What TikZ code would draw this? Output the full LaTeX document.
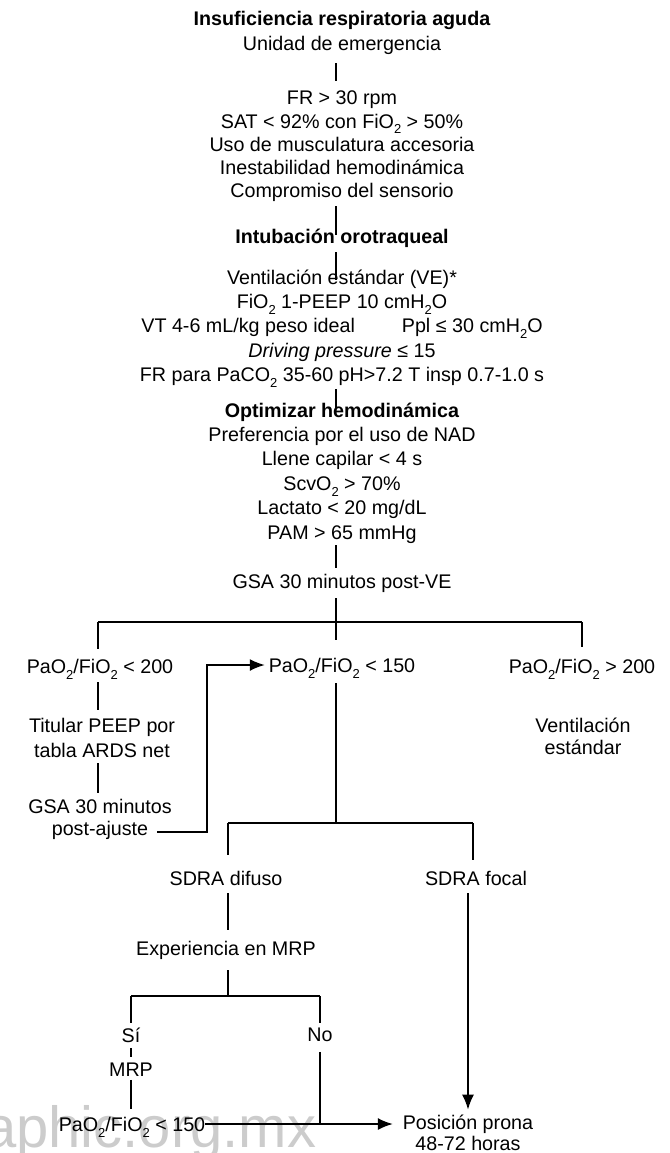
\documentclass[tikz,border=0pt]{standalone}
\usepackage{fontspec}
\setmainfont{Liberation Sans}
\usetikzlibrary{arrows.meta}
\newcommand{\dn}[1]{\raisebox{-0.3em}{\fontsize{13}{13}\selectfont #1}}
\begin{document}
\begin{tikzpicture}[x=1pt,y=-1pt,
  txt/.style={align=center,inner sep=0pt,outer sep=0pt,font=\fontsize{19.7}{23.5}\selectfont},
  ln/.style={line width=1.7pt},
  arr/.style={line width=1.7pt,-{Latex[length=15pt,width=12pt]}}]
\useasboundingbox (0,0) rectangle (669,1153);
% watermark
\node[anchor=base west,inner sep=0pt,text=black!20,font=\fontsize{58}{58}\selectfont] (wm) at (-16,1147) {aphic.org.mx};
% reference columns
\coordinate (sp) at (336,0);
\coordinate (lc) at (98,0);
\coordinate (tc) at (207,0);
\coordinate (pr) at (468,0);
% nodes
\node[txt] (t1) at (342,32.5) {\textbf{Insuficiencia respiratoria aguda}\\[1.5pt]Unidad de emergencia};
\node[txt,font=\fontsize{19.7}{23.3}\selectfont] (b2) at (342,146.5) {FR > 30 rpm\\SAT < 92\% con FiO\dn{2} > 50\%\\Uso de musculatura accesoria\\Inestabilidad hemodinámica\\Compromiso del sensorio};
\node[txt] (b3) at (342,238) {\textbf{Intubación orotraqueal}};
\node[txt,font=\fontsize{19.7}{24.2}\selectfont] (b4) at (342,328.5) {Ventilación estándar (VE)*\\FiO\dn{2} 1-PEEP 10 cmH\dn{2}O\\VT 4-6 mL/kg peso ideal\hspace{47pt}Ppl ≤ 30 cmH\dn{2}O\\\textit{Driving pressure} ≤ 15\\FR para PaCO\dn{2} 35-60 pH>7.2 T insp 0.7-1.0 s};
\node[txt,font=\fontsize{19.7}{24.4}\selectfont] (b5) at (342,473) {\textbf{Optimizar hemodinámica}\\Preferencia por el uso de NAD\\Llene capilar < 4 s\\ScvO\dn{2} > 70\%\\Lactato < 20 mg/dL\\PAM > 65 mmHg};
\node[txt] (b6) at (342,583) {GSA 30 minutos post-VE};
\node[txt] (lt) at (100,669) {PaO\dn{2}/FiO\dn{2} < 200};
\node[txt] (mid) at (342,668) {PaO\dn{2}/FiO\dn{2} < 150};
\node[txt] (rt) at (582,669) {PaO\dn{2}/FiO\dn{2} > 200};
\node[txt,font=\fontsize{19.7}{25}\selectfont] (tit) at (102,737.5) {Titular PEEP por\\tabla ARDS net};
\node[txt,font=\fontsize{19.7}{22}\selectfont] (vent) at (583,736) {Ventilación\\estándar};
\node[txt,font=\fontsize{19.7}{21.5}\selectfont] (gsa2) at (100,819.5) {GSA 30 minutos\\post-ajuste};
\node[txt] (dif) at (226,878) {SDRA difuso};
\node[txt] (foc) at (476,878) {SDRA focal};
\node[txt] (exp) at (226,950) {Experiencia en MRP};
\node[txt] (si) at (131,1035) {Sí};
\node[txt] (no) at (320,1035) {No};
\node[txt] (mrp) at (131,1070) {MRP};
\node[txt] (pa3) at (132,1127) {PaO\dn{2}/FiO\dn{2} < 150};
\node[txt,font=\fontsize{19.7}{21}\selectfont] (prona) at (468,1132.5) {Posición prona\\48-72 horas};
% junctions
\coordinate (jl) at (98,622);
\coordinate (jr) at (582,622);
\coordinate (jm) at (336,823);
\coordinate (jdl) at (228,823);
\coordinate (jdr) at (473,823);
\coordinate (je) at (228,996);
\coordinate (jsl) at (131,996);
\coordinate (jsr) at (320,996);
\coordinate (pa) at (157,832);
\coordinate (m3) at ([yshift=3pt]mid.west);
\coordinate (p3) at ([yshift=3pt]pa3.east);
\coordinate (jn) at (p3 -| jsr);
% spine
\draw[ln,shorten <=9pt,shorten >=10pt] (t1.south -| sp) -- (b2.north -| sp);
\draw[ln,shorten <=4pt,shorten >=-6pt] (b2.south -| sp) -- (b3.north -| sp);
\draw[ln,shorten <=5pt,shorten >=-10pt] (b3.south -| sp) -- (b4.north -| sp);
\draw[ln,shorten <=2pt,shorten >=-6pt] (b4.south -| sp) -- (b5.north -| sp);
\draw[ln,shorten <=2pt,shorten >=6pt] (b5.south -| sp) -- (b6.north -| sp);
\draw[ln,shorten <=6pt,shorten >=18pt] (b6.south -| sp) -- (mid.north -| sp);
\draw[ln] (jl) -- (jr);
\draw[ln,shorten >=10pt] (jl) -- (lt.north -| jl);
\draw[ln,shorten >=12pt] (jr) -- (rt.north -| jr);
% left column
\draw[ln,shorten <=3pt,shorten >=8pt] (lt.south -| lc) -- (tit.north -| lc);
\draw[ln,shorten <=6pt,shorten >=7pt] (tit.south -| lc) -- (gsa2.north -| lc);
\draw[arr,shorten >=4pt] (pa) -| (m3 -| tc) -- (m3);
% middle
\draw[ln,shorten <=5pt] (mid.south -| sp) -- (jm);
\draw[ln] (jdl) -- (jdr);
\draw[ln,shorten >=16pt] (jdl) -- (dif.north -| jdl);
\draw[ln,shorten >=11pt] (jdr) -- (foc.north -| jdr);
\draw[ln,shorten <=8pt,shorten >=11pt] (dif.south -| je) -- (exp.north -| je);
\draw[ln,shorten <=11pt] (exp.south -| je) -- (je);
\draw[ln] (jsl) -- (jsr);
\draw[ln,shorten >=5pt] (jsl) -- (si.north -| jsl);
\draw[ln,shorten >=5pt] (jsr) -- (no.north -| jsr);
\draw[ln,shorten <=6pt,shorten >=6pt] (si.south -| jsl) -- (mrp.north -| jsl);
\draw[ln,shorten <=3pt,shorten >=8pt] (mrp.south -| jsl) -- (pa3.north -| jsl);
\draw[ln,shorten <=10pt] (no.south -| jsr) -- (jn);
\draw[arr,shorten >=10pt] (p3) -- (p3 -| prona.west);
\draw[arr,shorten <=8pt,shorten >=5pt] (foc.south -| pr) -- (prona.north -| pr);
\end{tikzpicture}
\end{document}
